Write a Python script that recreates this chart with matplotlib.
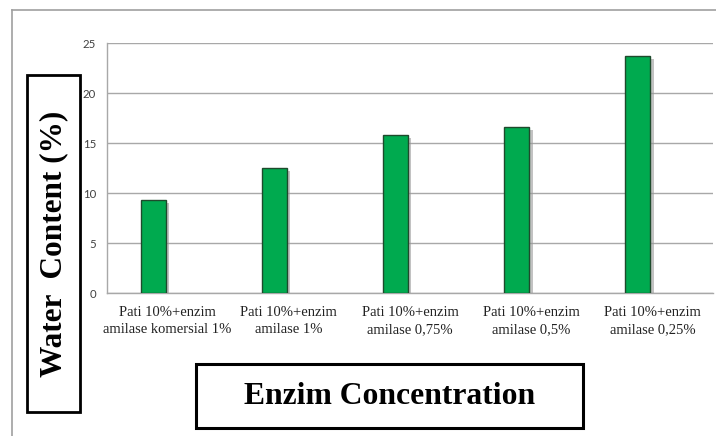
import matplotlib
matplotlib.use("Agg")
import matplotlib.pyplot as plt
import matplotlib.patheffects as pe
from matplotlib.patches import Rectangle
from matplotlib.lines import Line2D
import numpy as np

categories = ["Pati 10%+enzim\namilase komersial 1%",
              "Pati 10%+enzim\namilase 1%",
              "Pati 10%+enzim\namilase 0,75%",
              "Pati 10%+enzim\namilase 0,5%",
              "Pati 10%+enzim\namilase 0,25%"]
water_content = [9.3, 12.5, 15.8, 16.6, 23.7]
yticks = [0, 5, 10, 15, 20, 25]

W, H = 716, 436
fig = plt.figure(figsize=(W / 100, H / 100), dpi=100)
fig.patch.set_facecolor("white")

def fx(px):
    return px / W

def fy(py):
    return 1 - py / H

ax = fig.add_axes([fx(107), fy(293), fx(713) - fx(107), fy(43) - fy(293)])
x = np.arange(len(categories))
bars = ax.bar(x - 0.12, water_content, width=0.206, color="#00AA4F",
              edgecolor="#1E4A2C", linewidth=1.0, zorder=3)
for b in bars:
    b.set_path_effects([pe.SimplePatchShadow(offset=(2.5, -2.5), shadow_rgbFace="#9a9a9a", alpha=0.6), pe.Normal()])

ax.set_xlim(-0.5, len(categories) - 0.5)
ax.set_ylim(0, 25)
ax.set_yticks(yticks)
ax.set_yticklabels([str(t) for t in yticks], fontfamily="Lato", fontsize=8.2, color="#404040")
ax.set_xticks(x)
ax.set_xticklabels(categories, fontfamily="Liberation Serif", fontsize=10.5, color="#222222",
                   linespacing=1.45)
ax.tick_params(axis="y", length=0, pad=8)
ax.tick_params(axis="x", length=0, pad=9)
ax.grid(axis="y", color="#a8a8a8", linewidth=1.0, zorder=0)
for s in ["top", "right"]:
    ax.spines[s].set_visible(False)
for s in ["left", "bottom"]:
    ax.spines[s].set_color("#a8a8a8")
    ax.spines[s].set_linewidth(1.0)

# outer gray frame (top and left visible)
fig.add_artist(Line2D([fx(12), 1.0], [fy(10), fy(10)], color="#a0a0a0", linewidth=1.2, transform=fig.transFigure))
fig.add_artist(Line2D([fx(12), fx(12)], [fy(10), 0.0], color="#a0a0a0", linewidth=1.2, transform=fig.transFigure))

# y label box
fig.add_artist(Rectangle((fx(27), fy(412)), fx(79.5) - fx(27), fy(75) - fy(412), fill=False,
                         edgecolor="black", linewidth=2.0, transform=fig.transFigure, zorder=-1))
fig.text(fx(54), fy(244), "Water  Content (%)", rotation=90, ha="center", va="center",
         fontfamily="Liberation Serif", fontweight="bold", fontsize=22.5)

# x label box
fig.add_artist(Rectangle((fx(196), fy(428)), fx(583) - fx(196), fy(364) - fy(428), fill=False,
                         edgecolor="black", linewidth=2.2, transform=fig.transFigure))
fig.text(fx(389.5), fy(396), "Enzim Concentration", ha="center", va="center",
         fontfamily="Liberation Serif", fontweight="bold", fontsize=22.8)

fig.savefig("out.png", dpi=100)
